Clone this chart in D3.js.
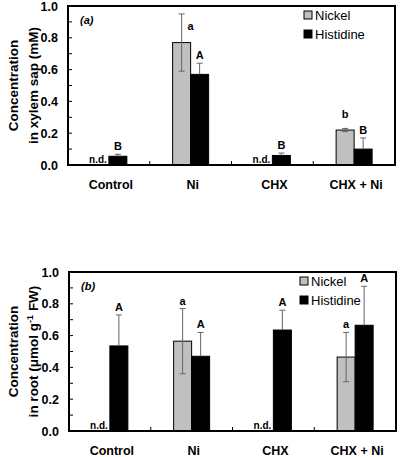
<!DOCTYPE html>
<html><head><meta charset="utf-8">
<script src="https://cdn.jsdelivr.net/npm/d3@7/dist/d3.min.js"></script>
<style>body{margin:0;background:#fff}svg{display:block}text{font-family:"Liberation Sans",Arial,sans-serif}</style>
</head><body><svg id="c" width="400" height="457"></svg>
<script>
const categories = ["Control", "Ni", "CHX", "CHX + Ni"];
const series = ["Nickel", "Histidine"];
const yTicks = [0, 0.2, 0.4, 0.6, 0.8, 1.0];
// panel (a) xylem sap (mM); null = n.d.
const xylemNickel = [null, 0.77, null, 0.22];
const xylemNickelErr = [null, 0.18, null, 0.01];
const xylemHistidine = [0.055, 0.57, 0.06, 0.10];
const xylemHistidineErr = [0.012, 0.07, 0.015, 0.07];
const xylemNickelLetters = ["", "a", "", "b"];
const xylemHistidineLetters = ["B", "A", "B", "B"];
// panel (b) root (µmol g-1 FW)
const rootNickel = [null, 0.565, null, 0.465];
const rootNickelErr = [null, 0.205, null, 0.155];
const rootHistidine = [0.535, 0.47, 0.635, 0.665];
const rootHistidineErr = [0.195, 0.15, 0.125, 0.245];
const rootNickelLetters = ["", "a", "", "a"];
const rootHistidineLetters = ["A", "A", "A", "A"];

const svg = d3.select("#c");
const colors = {Nickel: "#c0c0c0", Histidine: "#000"};

function panel(o) {
  const g = svg.append("g");
  const x = d3.scaleBand().domain(categories).range([o.left, o.right]).padding(0);
  const y = d3.scaleLinear().domain([0, 1]).range([o.bottom, o.top]);
  const bw = 18;
  const errCol = "#666";
  // bars
  categories.forEach((c, i) => {
    const cx = x(c) + x.bandwidth() / 2;
    const nk = o.nickel[i], hs = o.hist[i];
    if (nk != null) {
      g.append("rect").attr("x", cx - bw).attr("y", y(nk)).attr("width", bw).attr("height", y(0) - y(nk))
        .attr("fill", colors.Nickel).attr("stroke", "#000").attr("stroke-width", 1);
      const e = o.nickelErr[i];
      g.append("line").attr("x1", cx - bw / 2).attr("x2", cx - bw / 2).attr("y1", y(nk + e)).attr("y2", y(nk - e)).attr("stroke", errCol);
      [nk + e, nk - e].forEach(v => g.append("line").attr("x1", cx - bw / 2 - 3).attr("x2", cx - bw / 2 + 3).attr("y1", y(v)).attr("y2", y(v)).attr("stroke", errCol));
      g.append("text").attr("x", o.nickelLetterDx ? cx - bw / 2 + o.nickelLetterDx[i] : cx - bw / 2)
        .attr("y", y(nk + e) + (o.nickelLetterDy ? o.nickelLetterDy[i] : -4))
        .attr("text-anchor", "middle").attr("font-size", 11).attr("font-weight", "bold").text(o.nickelLetters[i]);
    } else {
      g.append("text").attr("x", cx - 2).attr("y", y(0) - 2).attr("text-anchor", "end")
        .attr("font-size", 10).attr("font-weight", "bold").text("n.d.");
    }
    g.append("rect").attr("x", cx).attr("y", y(hs)).attr("width", bw).attr("height", y(0) - y(hs))
      .attr("fill", colors.Histidine).attr("stroke", "#000").attr("stroke-width", 1);
    const he = o.histErr[i];
    g.append("line").attr("x1", cx + bw / 2).attr("x2", cx + bw / 2).attr("y1", y(hs + he)).attr("y2", y(hs)).attr("stroke", errCol);
    g.append("line").attr("x1", cx + bw / 2 - 3).attr("x2", cx + bw / 2 + 3).attr("y1", y(hs + he)).attr("y2", y(hs + he)).attr("stroke", errCol);
    g.append("text").attr("x", cx + bw / 2).attr("y", y(hs + he) - 4)
      .attr("text-anchor", "middle").attr("font-size", 11).attr("font-weight", "bold").text(o.histLetters[i]);
  });
  // frame
  g.append("rect").attr("x", o.left).attr("y", o.top).attr("width", o.right - o.left).attr("height", o.bottom - o.top)
    .attr("fill", "none").attr("stroke", "#000").attr("stroke-width", 2);
  // y axis
  const ya = d3.axisLeft(y).tickValues(yTicks).tickFormat(d3.format(".1f")).tickSize(0).tickPadding(10);
  const ag = g.append("g").attr("transform", `translate(${o.left},0)`).call(ya);
  ag.select(".domain").remove();
  ag.selectAll("text").attr("font-size", 12.5).attr("font-weight", "bold").attr("font-family", "Liberation Sans, Arial, sans-serif");
  d3.range(0, 1.0001, 0.1).forEach(v => {
    g.append("line").attr("x1", o.left).attr("x2", o.left + 4).attr("y1", y(v)).attr("y2", y(v)).attr("stroke", "#000");
  });
  // x category boundary ticks
  categories.slice(1).forEach(c => {
    g.append("line").attr("x1", x(c)).attr("x2", x(c)).attr("y1", o.bottom).attr("y2", o.bottom - 4).attr("stroke", "#000");
  });
  // category labels
  categories.forEach(c => {
    g.append("text").attr("x", x(c) + x.bandwidth() / 2 + 2).attr("y", o.bottom + 24).attr("text-anchor", "middle")
      .attr("font-size", 12.5).attr("font-weight", "bold").text(c);
  });
  // y title
  const cy = (o.top + o.bottom) / 2;
  g.append("text").attr("transform", `translate(18,${cy}) rotate(-90)`).attr("text-anchor", "middle")
    .attr("font-size", 13.5).attr("font-weight", "bold").text("Concentration");
  const t2 = g.append("text").attr("transform", `translate(38,${cy}) rotate(-90)`).attr("text-anchor", "middle")
    .attr("font-size", 13.5).attr("font-weight", "bold");
  o.title2(t2);
  // panel label
  g.append("text").attr("x", o.left + 12).attr("y", o.top + 18).attr("font-size", 11).attr("font-weight", "bold")
    .attr("font-style", "italic").text(o.label);
  // legend
  series.forEach((s, i) => {
    const ly = o.top + 14 + i * 19;
    g.append("rect").attr("x", o.legX).attr("y", ly - 9).attr("width", 8).attr("height", 8)
      .attr("fill", colors[s]).attr("stroke", "#000").attr("stroke-width", 1);
    g.append("text").attr("x", o.legX + 11).attr("y", ly).attr("font-size", 13).text(s);
  });
}

panel({left: 68, right: 395, top: 6, bottom: 165, label: "(a)", legX: 304,
  nickel: xylemNickel, nickelErr: xylemNickelErr, hist: xylemHistidine, histErr: xylemHistidineErr,
  nickelLetters: xylemNickelLetters, histLetters: xylemHistidineLetters,
  nickelLetterDx: [0, 9, 0, 0], nickelLetterDy: [0, 16, 0, -10],
  title2: t => t.text("in xylem sap (mM)")});
panel({left: 69, right: 396, top: 272, bottom: 431, label: "(b)", legX: 300,
  nickel: rootNickel, nickelErr: rootNickelErr, hist: rootHistidine, histErr: rootHistidineErr,
  nickelLetters: rootNickelLetters, histLetters: rootHistidineLetters,
  title2: t => { t.append("tspan").text("in root (\u03BCmol g");
    t.append("tspan").attr("dy", -5).attr("font-size", 9).text("-1");
    t.append("tspan").attr("dy", 5).text(" FW)"); }});
</script></body></html>
